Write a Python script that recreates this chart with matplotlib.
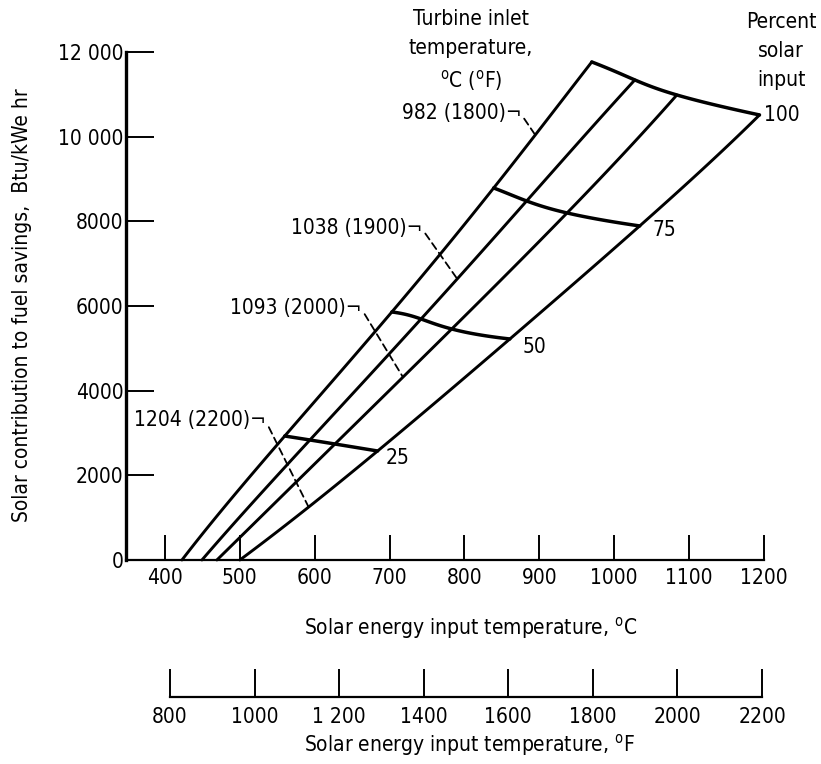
import numpy as np
import matplotlib
matplotlib.use("Agg")
import matplotlib.pyplot as plt
from matplotlib import font_manager

# narrow face for all text; fall back to whatever condensed sans is installed
installed = font_manager.fontManager.ttflist
if any(f.name == 'Liberation Sans Narrow' for f in installed):
    face, base_size = 'Liberation Sans Narrow', 16
elif any(f.name == 'DejaVu Sans' and f.stretch == 'condensed' for f in installed):
    face, base_size = 'DejaVu Sans', 15
    plt.rcParams['font.stretch'] = 'condensed'
else:
    face, base_size = 'Roboto', 14.5
plt.rcParams['font.family'] = [face, 'DejaVu Sans']
plt.rcParams['mathtext.fontset'] = 'custom'
plt.rcParams['mathtext.rm'] = face
plt.rcParams['font.size'] = base_size

# percent of turbine input supplied by solar energy
percent_solar = [0, 25, 50, 75, 100]

# turbine inlet temperatures, deg C and deg F
inlet_temp_c = [982, 1038, 1093, 1204]
inlet_temp_f = [1800, 1900, 2000, 2200]

# solar energy input temperature (deg C) at 0/25/50/75/100 percent, one list per inlet temp
solar_temp_982 = [422.7, 560, 703, 839, 970]
solar_temp_1038 = [449.4, 593.6, 742, 883, 1027.5]
solar_temp_1093 = [469.4, 627, 783, 937, 1083.6]
solar_temp_1204 = [500, 684, 860.6, 1034, 1194]

# solar contribution to fuel savings (Btu/kWe hr) at the same points
savings_982 = [0, 2929, 5859, 8788, 11765]
savings_1038 = [0, 2835, 5693, 8481, 11340]
savings_1093 = [0, 2740, 5457, 8198, 10985]
savings_1204 = [0, 2575, 5221, 7891, 10513]

solar_temps = [solar_temp_982, solar_temp_1038, solar_temp_1093, solar_temp_1204]
savings = [savings_982, savings_1038, savings_1093, savings_1204]

c_ticks = [400, 500, 600, 700, 800, 900, 1000, 1100, 1200]
f_ticks = [800, 1000, 1200, 1400, 1600, 1800, 2000, 2200]
f_tick_labels = ['800', '1000', '1 200', '1400', '1600', '1800', '2000', '2200']
y_ticks = [0, 2000, 4000, 6000, 8000, 10000, 12000]
y_tick_labels = ['0', '2000', '4000', '6000', '8000', '10 000', '12 000']

# where the label leaders meet each inlet-temperature line (savings value)
leader_savings = [10040, 6640, 4320, 1250]
# right end of each inlet-temperature label (deg C, savings)
label_anchor_t = [876, 744, 663, 535]
label_anchor_s = [10560, 7843, 5953, 3307]


def smooth(param, values, n=100):
    # exact polynomial through the read points, evaluated densely
    coef = np.polyfit(param, values, len(param) - 1)
    p = np.linspace(param[0], param[-1], n)
    return np.polyval(coef, p)


fig = plt.figure(figsize=(8.21, 7.64), dpi=100)
ax = fig.add_axes([126 / 821, 1 - 560 / 764, 638 / 821, 508 / 764])

line_curves = []
for temps, sav in zip(solar_temps, savings):
    tx = smooth(percent_solar, temps)
    sy = smooth(percent_solar, sav)
    line_curves.append((tx, sy))
    ax.plot(tx, sy, color='black', lw=2.1, clip_on=False, solid_capstyle='round')

# constant percent-solar-input curves across the four lines
idx = [0, 1, 2, 3]
ends = []
for k in range(1, len(percent_solar)):
    tx = smooth(idx, [t[k] for t in solar_temps])
    sy = smooth(idx, [s[k] for s in savings])
    ax.plot(tx, sy, color='black', lw=2.5, clip_on=False, solid_capstyle='round')
    ends.append((tx[-1], sy[-1]))

pct_offsets = [(6, -5), (9, -6), (9, -3), (3, 0)]
for k, (end, off) in enumerate(zip(ends, pct_offsets)):
    ax.annotate(str(percent_solar[k + 1]), xy=end, xytext=off,
                textcoords='offset points', ha='left', va='center')

# inlet temperature labels with dashed leaders
for i in range(4):
    tx, sy = line_curves[i]
    target = (np.interp(leader_savings[i], sy, tx), leader_savings[i])
    ax.annotate('%d (%d)\u00ac' % (inlet_temp_c[i], inlet_temp_f[i]),
                xy=target, xytext=(label_anchor_t[i], label_anchor_s[i]),
                ha='right', va='center',
                arrowprops=dict(arrowstyle='-', color='black', lw=1.3,
                                linestyle=(0, (4, 2.5)), shrinkA=0, shrinkB=0,
                                relpos=(1.0, 0.42)))

ax.set_xlim(348, 1200)
ax.set_ylim(0, 12000)
ax.set_xticks(c_ticks)
ax.set_yticks(y_ticks)
ax.set_yticklabels(y_tick_labels)
ax.tick_params(axis='x', direction='in', length=18, width=1.4, pad=6)
ax.tick_params(axis='y', direction='in', length=20, width=1.4, pad=2)
ax.spines['top'].set_visible(False)
ax.spines['right'].set_visible(False)
ax.spines['left'].set_linewidth(2.4)
ax.spines['bottom'].set_linewidth(1.6)
ax.patch.set_visible(False)

# Fahrenheit scale underneath
axf = fig.add_axes([170 / 821, 1 - 697 / 764, 592 / 821, 0.001])
axf.set_xlim(800, 2200)
axf.set_xticks(f_ticks)
axf.set_xticklabels(f_tick_labels)
axf.set_yticks([])
for s in ['top', 'left', 'right']:
    axf.spines[s].set_visible(False)
axf.spines['bottom'].set_linewidth(1.6)
axf.tick_params(axis='x', direction='in', length=20, width=1.4, pad=7)
axf.patch.set_visible(False)

fig.text(471 / 821, 1 - 628 / 764, r'Solar energy input temperature, $^{\rm o}$C',
         ha='center', va='center')
fig.text(469 / 821, 1 - 745 / 764, r'Solar energy input temperature, $^{\rm o}$F',
         ha='center', va='center')
fig.text(22 / 821, 1 - 305 / 764, 'Solar contribution to fuel savings,  Btu/kWe hr',
         rotation=90, ha='center', va='center')
fig.text(471 / 821, 1 - 9 / 764, 'Turbine inlet\ntemperature,\n' + r'$^{\rm o}$C ($^{\rm o}$F)',
         ha='center', va='top', linespacing=1.55)
fig.text(781 / 821, 1 - 12 / 764, 'Percent\nsolar\ninput',
         ha='center', va='top', linespacing=1.55)

fig.savefig('out.png', dpi=100)
